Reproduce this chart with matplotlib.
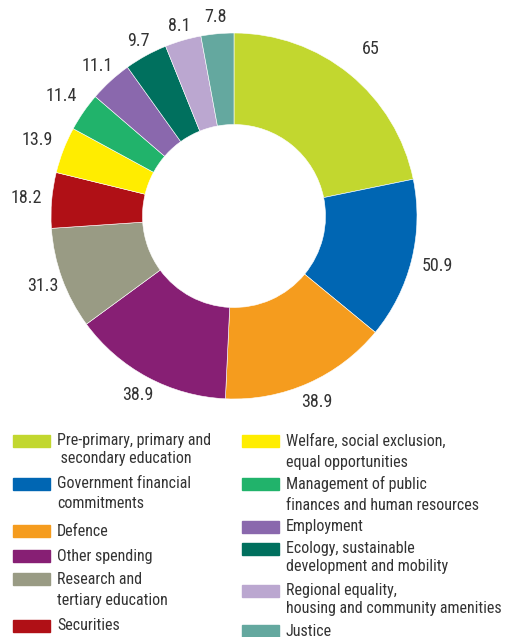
import numpy as np
import matplotlib.pyplot as plt
from matplotlib.patches import Rectangle

plt.rcParams['font.family'] = ['Roboto Condensed', 'DejaVu Sans']

labels = ['Pre-primary, primary and\n secondary education',
          'Government financial\ncommitments',
          'Defence',
          'Other spending',
          'Research and\ntertiary education',
          'Securities',
          'Welfare, social exclusion,\nequal opportunities',
          'Management of public\nfinances and human resources',
          'Employment',
          'Ecology, sustainable\ndevelopment and mobility',
          'Regional equality,\nhousing and community amenities',
          'Justice']
# printed values
value_text = ['65', '50.9', '38.9', '38.9', '31.3', '18.2', '13.9', '11.4', '11.1', '9.7', '8.1', '7.8']
# slice shares (%) as drawn in the original, which is not proportional to the printed values
shares = [21.8, 14.2, 14.8, 14.2, 9.0, 4.9, 4.1, 3.4, 3.8, 3.8, 3.2, 2.9]
colors = ['#C2D72F', '#0066B3', '#F59C1E', '#871F74', '#999B84', '#B01016',
          '#FFED00', '#21B36B', '#8A68AD', '#00705E', '#BBA7D0', '#64A89F']

W, H = 506, 637
txt_color = '#333333'
fig = plt.figure(figsize=(W / 100, H / 100), dpi=100)

# donut: centre (234, 216) px, radius 183 px
cx, cy, r = 234, 216, 183
ax = fig.add_axes([(cx - r) / W, (H - cy - r) / H, 2 * r / W, 2 * r / H])
wedges, _ = ax.pie(shares, colors=colors, startangle=90, counterclock=False,
                   radius=1, wedgeprops=dict(width=0.5, edgecolor='white', linewidth=0.4))
ax.set_xlim(-1, 1)
ax.set_ylim(-1, 1)
ax.set_aspect('equal')
ax.axis('off')

# distance of each value label from the centre (in radii)
lab_dist = [1.18, 1.145, 1.11, 1.11, 1.11, 1.14, 1.15, 1.15, 1.11, 1.09, 1.08, 1.09]
for w, t, d in zip(wedges, value_text, lab_dist):
    ang = np.deg2rad((w.theta1 + w.theta2) / 2)
    ax.text(d * np.cos(ang), d * np.sin(ang), t, ha='center', va='center',
            fontsize=13, color=txt_color, clip_on=False)

# legend, drawn by hand in two columns
col_x = [13] * 6 + [242] * 6
row_y = [441, 484, 531, 556, 579, 626, 441, 484, 527, 549, 591, 631]
line_gap = [18, 19, 0, 0, 22, 0, 21, 22, 0, 18, 18, 0]
for lab, c, x, y, g in zip(labels, colors, col_x, row_y, line_gap):
    fig.patches.append(Rectangle((x / W, (H - y - 6) / H), 37 / W, 12 / H,
                                 transform=fig.transFigure, color=c))
    for i, line in enumerate(lab.split('\n')):
        fig.text((x + 44) / W, (H - y - i * g) / H, line, ha='left', va='center',
                 fontsize=11.5, color=txt_color)

fig.savefig('out.png', dpi=100)
